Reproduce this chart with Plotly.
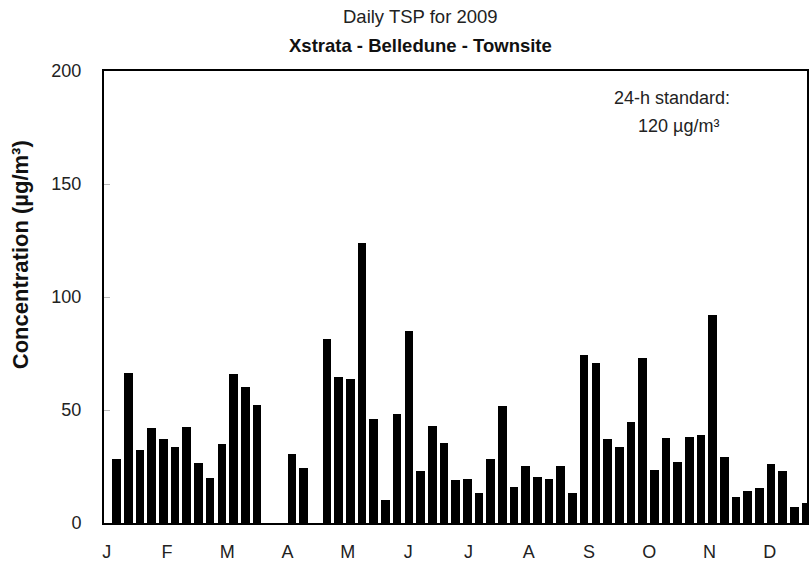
import plotly.graph_objects as go

# Sampling slots (every 6th day through 2009), index 0..59
SAMPLE_INDEX = list(range(60))
TSP = [28.3, 66.5, 32.3, 41.9, 37.0, 33.5, 42.3, 26.4, 19.8, 34.8,
       65.9, 60.3, 52.2, None, None, 30.5, 24.2, None, 81.3, 64.7,
       63.6, 123.7, 45.9, 10.2, 48.2, 85.1, 23.1, 42.9, 35.3, 19.0,
       19.3, 13.4, 28.2, 51.8, 16.1, 25.2, 20.5, 19.3, 25.2, 13.1,
       74.3, 70.7, 37.0, 33.5, 44.5, 73.2, 23.5, 37.8, 27.1, 37.9,
       38.9, 92.0, 29.1, 11.7, 14.3, 15.6, 26.0, 23.0, 6.9, 9.0]
MONTH_LABELS = ["J", "F", "M", "A", "M", "J", "J", "A", "S", "O", "N", "D"]
Y_TICKS = [0, 50, 100, 150, 200]

TITLE_1 = "Daily TSP for 2009"
TITLE_2 = "Xstrata - Belledune - Townsite"
Y_TITLE = "Concentration (µg/m³)"
NOTE_1 = "24-h standard:"
NOTE_2 = "120 µg/m³"

FONT = "Liberation Sans, Arial, sans-serif"

# month label positions in slot units (labels spaced ~5.16 slots)
month_pos = [-0.85 + 5.158 * k for k in range(len(MONTH_LABELS))]

fig = go.Figure()
fig.add_trace(go.Bar(
    x=SAMPLE_INDEX, y=TSP, width=0.74,
    marker=dict(color="#000000", line=dict(width=0)),
    showlegend=False, hoverinfo="skip",
))

W, H = 811, 574
L, R, T, B = 104, 2, 71, 51
pw, ph = W - L - R, H - T - B

def px(x):
    return (x - L) / pw

def py(y):
    return (H - B - y) / ph

fig.update_layout(
    width=W, height=H,
    margin=dict(l=L, r=R, t=T, b=B),
    paper_bgcolor="white", plot_bgcolor="white",
    font=dict(family=FONT, size=18, color="#111"),
    bargap=0,
    xaxis=dict(
        range=[-1.084, 59.07],
        tickmode="array", tickvals=month_pos, ticktext=MONTH_LABELS,
        showline=True, linecolor="#000", linewidth=2, mirror=True,
        ticks="", showgrid=False, zeroline=False,
        ticklabelstandoff=11,
        tickfont=dict(size=18, color="#222"),
    ),
    yaxis=dict(
        range=[0, 200],
        tickmode="array", tickvals=Y_TICKS,
        showline=True, linecolor="#000", linewidth=2, mirror=True,
        ticks="inside", ticklen=6, tickcolor="#bbb", tickwidth=1,
        showgrid=False, zeroline=False,
        ticklabelstandoff=17,
        tickfont=dict(size=18, color="#222"),
    ),
    annotations=[
        dict(text=TITLE_1, x=px(421), y=py(17), xref="paper", yref="paper",
             showarrow=False, xanchor="center", yanchor="middle",
             font=dict(size=18.5, color="#222")),
        dict(text="<b>" + TITLE_2 + "</b>", x=px(421), y=py(45), xref="paper", yref="paper",
             showarrow=False, xanchor="center", yanchor="middle",
             font=dict(size=18.5, color="#111")),
        dict(text="<b>" + Y_TITLE + "</b>", x=px(21), y=py(255), xref="paper", yref="paper",
             showarrow=False, xanchor="center", yanchor="middle", textangle=-90,
             font=dict(size=22, color="#111")),
        dict(text=NOTE_1, x=px(674), y=py(98), xref="paper", yref="paper",
             showarrow=False, xanchor="center", yanchor="middle",
             font=dict(size=18, color="#222")),
        dict(text=NOTE_2, x=px(680), y=py(126), xref="paper", yref="paper",
             showarrow=False, xanchor="center", yanchor="middle",
             font=dict(size=18, color="#222")),
    ],
)

fig.write_html("out.html", config={"displayModeBar": False},
               post_script="document.body.style.margin='0';")
